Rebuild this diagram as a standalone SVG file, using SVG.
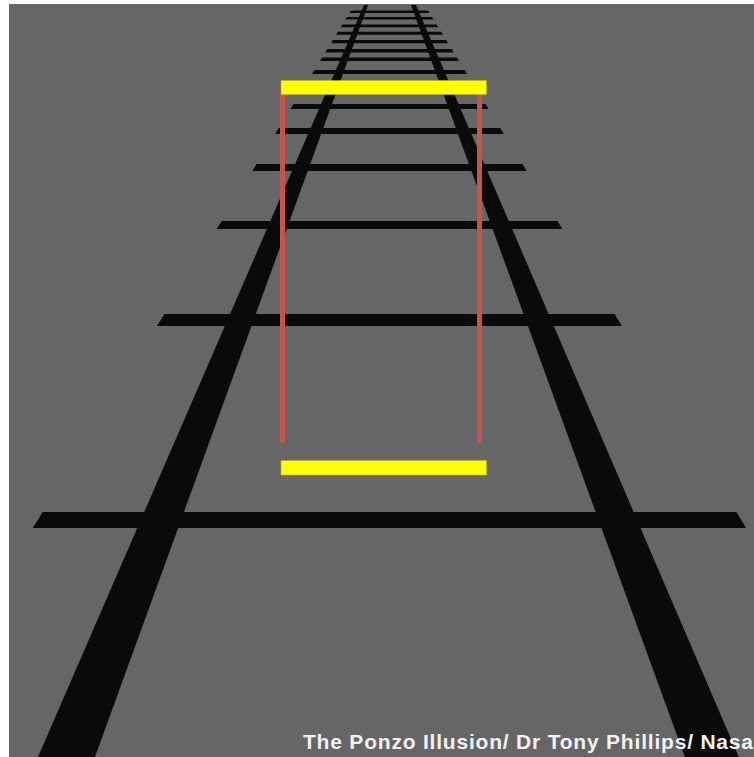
<svg xmlns="http://www.w3.org/2000/svg" width="754" height="757" viewBox="0 0 754 757">
  <style>
    .rail { fill: #0a0a0a; }
    .tie { fill: #0a0a0a; }
    .bar { fill: #ffff00; stroke: #b4b020; stroke-width: 1; stroke-opacity: 0.6; }
    .post { fill: #c8524c; }
    .caption { font-family: "Liberation Sans", Arial, sans-serif; font-weight: bold; font-size: 21px; fill: #f2f2f2; }
  </style>
  <rect x="0" y="0" width="754" height="757" fill="#ffffff"/>
  <rect id="background" x="9" y="4" width="745" height="753" fill="#666666"/>
  <g id="rails">
    <polygon class="rail" points="364.0,5 368.0,5 95,757 38,757"/>
    <polygon class="rail" points="411.0,5 416.0,5 738.8,757 684.9,757"/>
  </g>
  <g id="ties">
    <polygon class="tie" points="42.6,512 736.4,512 746.2,528 32.8,528"/>
    <polygon class="tie" points="164.4,314 614.6,314 622,326 157,326"/>
    <polygon class="tie" points="221.6,221 557.4,221 562.3,229 216.7,229"/>
    <polygon class="tie" points="256.6,164 522.4,164 526.7,171 252.3,171"/>
    <polygon class="tie" points="278.8,128 500.2,128 503.9,134 275.1,134"/>
    <polygon class="tie" points="293.5,104 485.5,104 488.5,109 290.5,109"/>
    <polygon class="tie" points="305.2,85 473.8,85 476.5,89.5 302.5,89.5"/>
    <polygon class="tie" points="314.4,70 464.6,70 467,74 312,74"/>
    <polygon class="tie" points="322.1,57.5 456.9,57.5 459,61 320,61"/>
    <polygon class="tie" points="327.4,49 451.6,49 453.8,52.5 325.2,52.5"/>
    <polygon class="tie" points="332.9,40 446.1,40 448.1,43.3 330.9,43.3"/>
    <polygon class="tie" points="337.9,31.8 441.1,31.8 442.9,34.8 336.1,34.8"/>
    <polygon class="tie" points="342.4,24.5 436.6,24.5 438.3,27.3 340.7,27.3"/>
    <polygon class="tie" points="347,17 432,17 433.6,19.6 345.4,19.6"/>
    <polygon class="tie" points="351,10.5 428,10.5 429.5,13 349.5,13"/>
  </g>
  <g id="red-lines">
    <rect class="post" x="280" y="94" width="5" height="349"/>
    <rect class="post" x="477" y="94" width="5" height="349"/>
  </g>
  <g id="yellow-bars">
    <rect id="bar-top" class="bar" x="281" y="80.5" width="205.5" height="14"/>
    <rect id="bar-bottom" class="bar" x="281" y="460.5" width="205.5" height="14.5"/>
  </g>
  <g id="caption">
    <text class="caption" x="303" y="749" textLength="450" lengthAdjust="spacing">The Ponzo Illusion/ Dr Tony Phillips/ Nasa</text>
  </g>
</svg>
